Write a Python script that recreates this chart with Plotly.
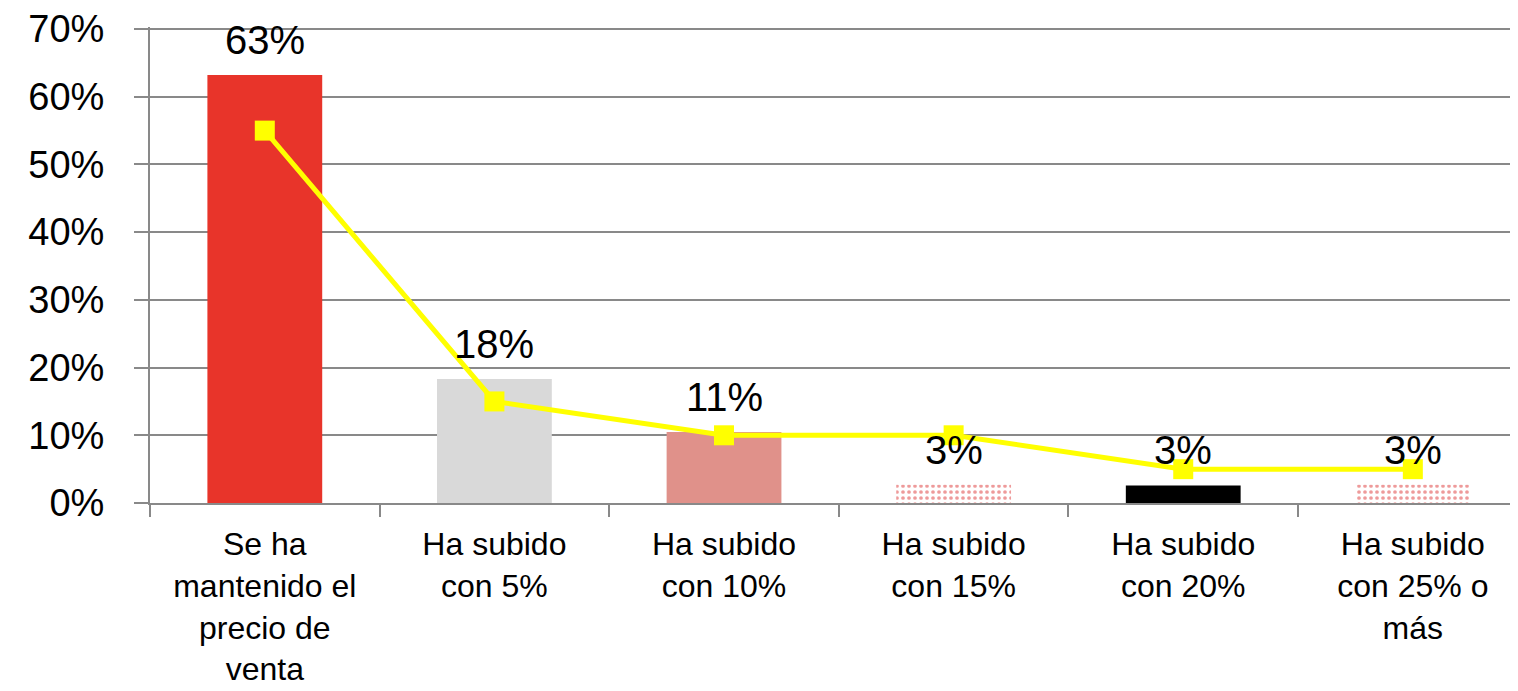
import plotly.graph_objects as go

categories = [
    "Se ha<br>mantenido el<br>precio de<br>venta",
    "Ha subido<br>con 5%",
    "Ha subido<br>con 10%",
    "Ha subido<br>con 15%",
    "Ha subido<br>con 20%",
    "Ha subido<br>con 25% o<br>más",
]
bar_values = [63.2, 18.3, 10.5, 2.7, 2.6, 2.7]
bar_labels = ["63%", "18%", "11%", "3%", "3%", "3%"]
line_values = [55, 15, 10, 10, 5, 5]
y_ticks = [0, 10, 20, 30, 40, 50, 60, 70]
y_tick_labels = ["0%", "10%", "20%", "30%", "40%", "50%", "60%", "70%"]

bar_colors = ["#E8342A", "#D9D9D9", "#E0918A", "#EE9A9A", "black", "#EE9A9A"]
pattern_shapes = ["", "", "", ".", "", "."]

fig = go.Figure()

fig.add_trace(go.Bar(
    x=categories, y=bar_values,
    marker=dict(
        color=bar_colors, line=dict(width=0),
        pattern=dict(shape=pattern_shapes, size=6, solidity=0.3, fillmode="replace"),
    ),
    width=0.5,
    showlegend=False,
))

fig.add_trace(go.Scatter(
    x=categories, y=line_values,
    mode="lines+markers",
    line=dict(color="#FFFF00", width=5),
    marker=dict(symbol="square", size=20, color="#FFFF00"),
    cliponaxis=False,
    showlegend=False,
))

for cat, val, lab in zip(categories, bar_values, bar_labels):
    fig.add_annotation(x=cat, y=val, text=lab, showarrow=False,
                       yanchor="middle", yshift=35,
                       font=dict(size=40, color="black"))

# page body has an 8px margin, so the figure is a bit smaller than the window
fig.update_layout(
    width=1510, height=683,
    margin=dict(l=142, r=0, t=19, b=188),
    plot_bgcolor="white", paper_bgcolor="white",
    font=dict(family="Liberation Sans, Arial, sans-serif", color="black"),
    xaxis=dict(
        range=[-0.5, 5.458], automargin=False,
        tickson="boundaries", ticks="outside", ticklen=12, tickcolor="#898989",
        tickwidth=2, showline=True, linecolor="#898989", linewidth=2,
        tickfont=dict(size=32), ticklabelstandoff=12,
        showgrid=False,
    ),
    yaxis=dict(
        range=[0, 70.3], tickvals=y_ticks, ticktext=y_tick_labels,
        automargin=False, ticklabeloverflow="allow",
        ticks="outside", ticklen=14, tickcolor="#898989", tickwidth=2,
        showline=True, linecolor="#898989", linewidth=2,
        gridcolor="#898989", gridwidth=2, zeroline=False,
        tickfont=dict(size=38), ticklabelstandoff=22,
    ),
)

fig.write_html("out.html")
